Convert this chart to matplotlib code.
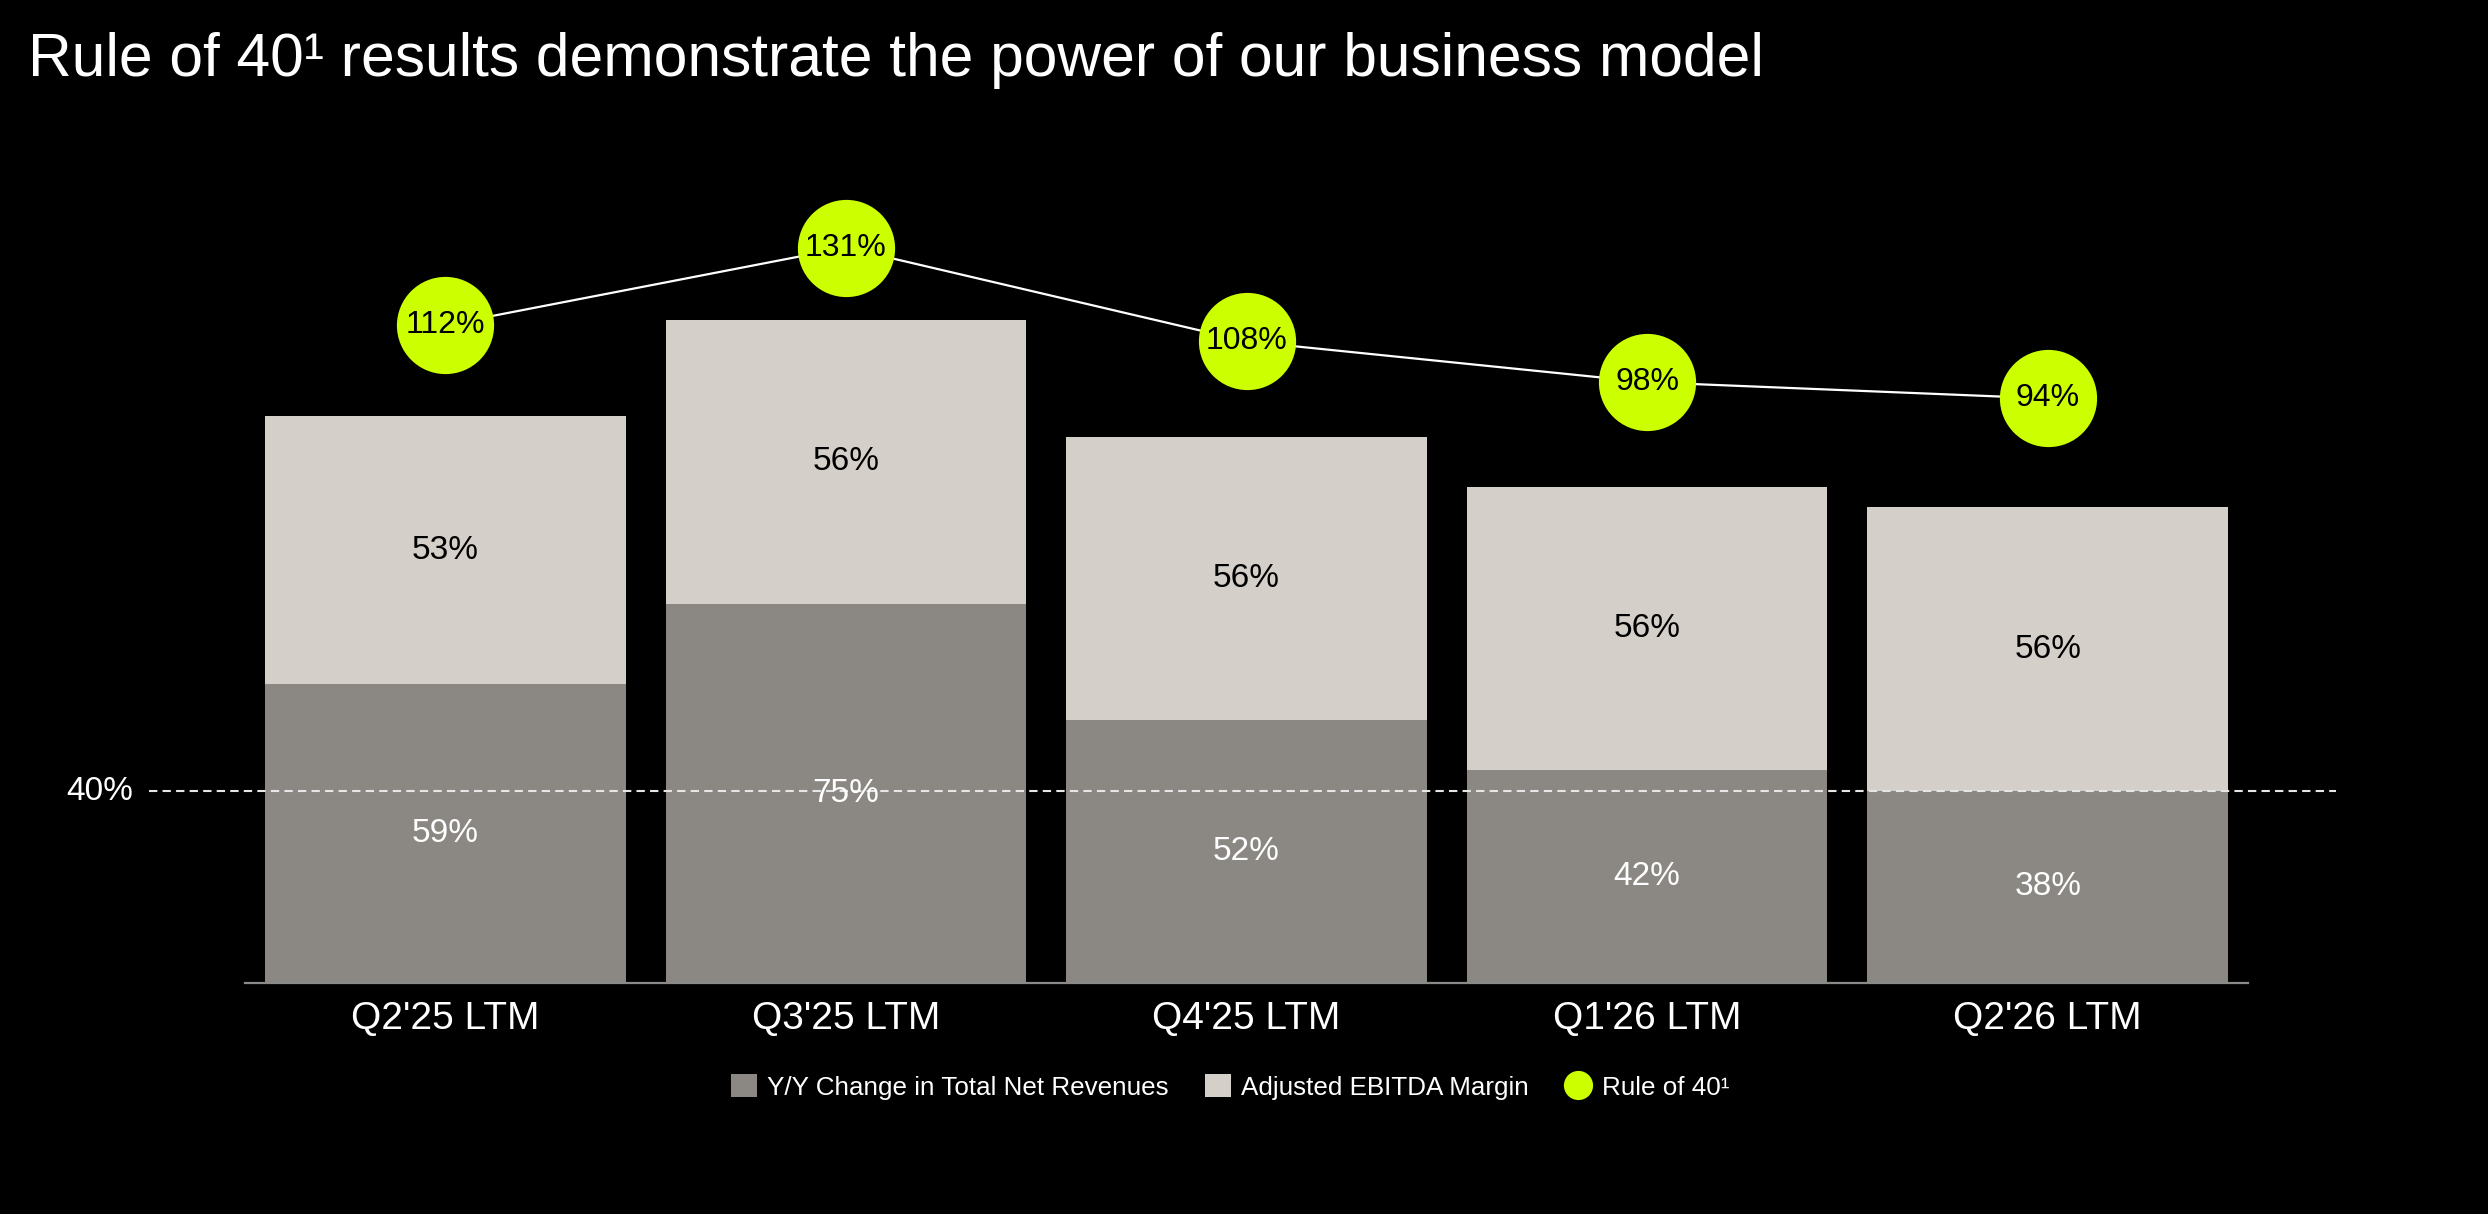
import matplotlib
matplotlib.use("Agg")
import matplotlib.pyplot as plt
from matplotlib.lines import Line2D
from matplotlib.patches import Patch

# data
periods = ["Q2'25 LTM", "Q3'25 LTM", "Q4'25 LTM", "Q1'26 LTM", "Q2'26 LTM"]
revenue_growth = [59, 75, 52, 42, 38]      # Y/Y change in total net revenues
ebitda_margin = [53, 56, 56, 56, 56]       # adjusted EBITDA margin
rule_of_40 = [112, 131, 108, 98, 94]
threshold_label = "40%"
threshold_level = 37.9                      # where the dashed guide sits on the slide

DARK = "#8b8883"
LIGHT = "#d4cfc8"
LIME = "#ccff00"

plt.rcParams['font.family'] = ['Liberation Sans', 'DejaVu Sans']

W, H = 2488, 1214
fig = plt.figure(figsize=(W / 100, H / 100), dpi=100, facecolor="black")

# axes placed in pixel terms: baseline at y=983, x from 245 to 2248
ax_h = 760
ax = fig.add_axes([245 / W, (H - 983) / H, (2248 - 245) / W, ax_h / H])
ax.set_facecolor("black")

x = list(range(len(periods)))
ax.bar(x, revenue_growth, width=0.9, color=DARK, zorder=2)
ax.bar(x, ebitda_margin, width=0.9, bottom=revenue_growth, color=LIGHT, zorder=2)

ax.set_xlim(-0.5, len(periods) - 0.5)
ax.set_ylim(0, ax_h / 5.06)

for i in x:
    ax.text(i, revenue_growth[i] / 2, f"{revenue_growth[i]}%", ha="center", va="center",
            color="white", fontsize=24, zorder=5)
    ax.text(i, revenue_growth[i] + ebitda_margin[i] / 2, f"{ebitda_margin[i]}%",
            ha="center", va="center", color="black", fontsize=24, zorder=5)

# dashed guide line, runs past the axes on both sides
ax.plot([-0.74, 4.72], [threshold_level, threshold_level], color="#e6e6e6", lw=1.5,
        ls=(0, (4, 2.5)), clip_on=False, zorder=4)
ax.text(-0.78, threshold_level, threshold_label, ha="right", va="center", color="white",
        fontsize=24)

for s in ["top", "right", "left"]:
    ax.spines[s].set_visible(False)
ax.spines["bottom"].set_color("#8a8a8a")
ax.spines["bottom"].set_linewidth(1.6)
ax.set_yticks([])
ax.set_xticks(x)
ax.set_xticklabels(periods, color="white", fontsize=28)
ax.tick_params(axis="x", length=0, pad=13)

# rule of 40 on its own scale
ax2 = ax.twinx()
ax2.set_ylim(-201 / 4.08, (782 - (983 - ax_h)) / 4.08)
ax2.plot(x, rule_of_40, color="white", lw=1.6, marker="o", markersize=70,
         markerfacecolor=LIME, markeredgewidth=0, zorder=3, clip_on=False)
for i in x:
    ax2.text(i, rule_of_40[i], f"{rule_of_40[i]}%", ha="center", va="center",
             color="black", fontsize=23, zorder=6)
ax2.set_yticks([])
for s in ax2.spines.values():
    s.set_visible(False)

fig.text(28 / W, 1 - 76 / H, "Rule of 40¹ results demonstrate the power of our business model",
         color="white", fontsize=43.6, ha="left", va="baseline")

handles = [
    Patch(facecolor=DARK, label="Y/Y Change in Total Net Revenues"),
    Patch(facecolor=LIGHT, label="Adjusted EBITDA Margin"),
    Line2D([0], [0], color="white", lw=1.5, marker="o", markersize=21,
           markerfacecolor=LIME, markeredgewidth=0, label="Rule of 40¹"),
]
leg = fig.legend(handles=handles, loc="center", bbox_to_anchor=(1230 / W, 1 - 1087 / H),
                 ncol=3, frameon=False, fontsize=18.7, handlelength=1.0, handleheight=1.0,
                 handletextpad=0.4, columnspacing=1.4, labelcolor="white")

fig.savefig("out.png", dpi=100, facecolor="black")
